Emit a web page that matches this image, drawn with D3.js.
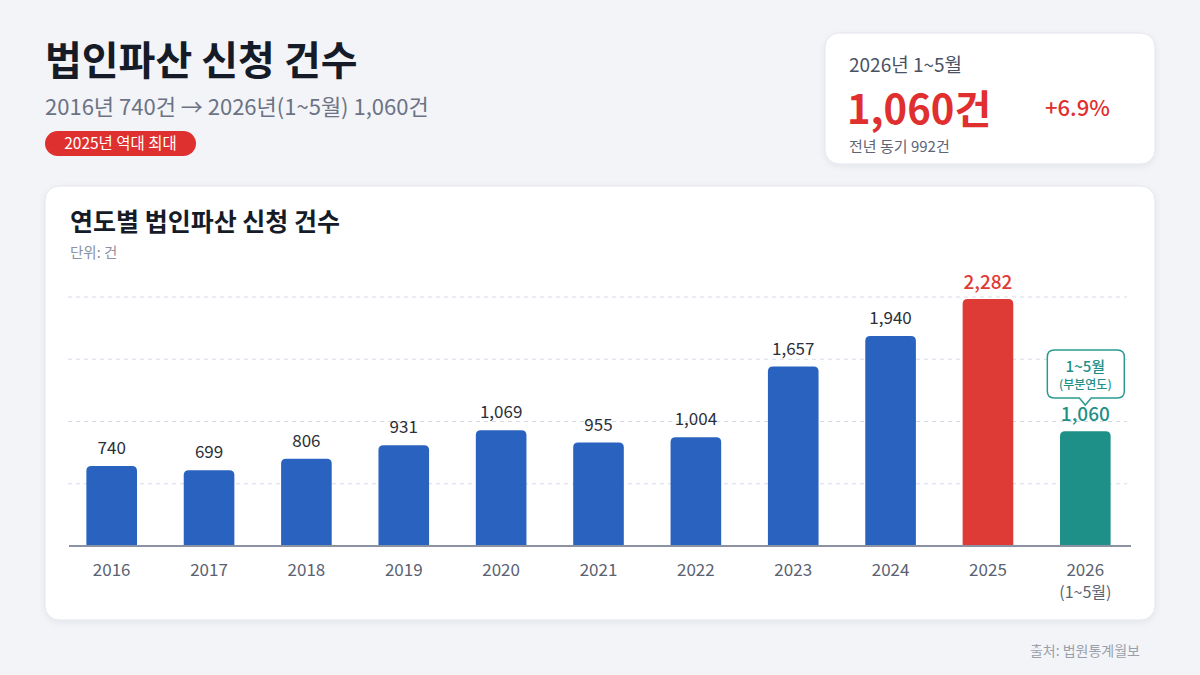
<!DOCTYPE html>
<html><head><meta charset="utf-8">
<script src="https://cdn.jsdelivr.net/npm/d3@7"></script>
<style>
html,body{margin:0;padding:0;background:#f3f4f7;}
svg{display:block;font-family:"Noto Sans CJK KR","Noto Sans",sans-serif;}
</style></head>
<body><svg id="c" width="1200" height="675"></svg>
<script>
const years = ["2016","2017","2018","2019","2020","2021","2022","2023","2024","2025","2026"];
const yearSubLabels = ["","","","","","","","","","","(1~5월)"];
const counts = [740,699,806,931,1069,955,1004,1657,1940,2282,1060];
const gridValues = [575,1150,1725,2300];
const barKinds = ["normal","normal","normal","normal","normal","normal","normal","normal","normal","peak","partial"];

const colors = {normal:"#2a63bf", peak:"#df3b36", partial:"#1f9088"};
const labelColors = {normal:"#2b2f38", peak:"#df3b36", partial:"#1f9088"};

const svg = d3.select("#c");
const defs = svg.append("defs");
const f = defs.append("filter").attr("id","sh").attr("x","-5%").attr("y","-5%").attr("width","110%").attr("height","115%");
f.append("feDropShadow").attr("dx",0).attr("dy",2).attr("stdDeviation",3).attr("flood-color","#1a2340").attr("flood-opacity",0.06);

// Header
svg.append("text").attr("x",45).attr("y",75).attr("font-size",40).attr("font-weight",700).attr("fill","#161b28").text("법인파산 신청 건수");
svg.append("text").attr("x",45).attr("y",115).attr("font-size",22).attr("fill","#6b7385").text("2016년 740건 → 2026년(1~5월) 1,060건");
svg.append("rect").attr("x",45).attr("y",131).attr("width",151).attr("height",25).attr("rx",12.5).attr("fill","#df3030");
svg.append("text").attr("x",120.5).attr("y",149).attr("text-anchor","middle").attr("font-size",15.5).attr("font-weight",400).attr("fill","#fff").text("2025년 역대 최대");

// KPI card
svg.append("rect").attr("x",825).attr("y",33).attr("width",330).attr("height",131).attr("rx",14).attr("fill","#fff").attr("stroke","#e2e5ec").attr("filter","url(#sh)");
svg.append("text").attr("x",849).attr("y",72).attr("font-size",19).attr("fill","#4a5262").text("2026년 1~5월");
svg.append("text").attr("x",847).attr("y",124).attr("font-size",40).attr("font-weight",700).attr("fill","#df2f2f").text("1,060건");
svg.append("text").attr("x",1045).attr("y",116).attr("font-size",22).attr("font-weight",500).attr("fill","#df2f2f").text("+6.9%");
svg.append("text").attr("x",849).attr("y",152).attr("font-size",15).attr("fill","#5d6575").text("전년 동기 992건");

// Chart card
svg.append("rect").attr("x",45).attr("y",186).attr("width",1110).attr("height",434).attr("rx",14).attr("fill","#fff").attr("stroke","#e2e5ec").attr("filter","url(#sh)");
svg.append("text").attr("x",70).attr("y",231).attr("font-size",25).attr("font-weight",700).attr("fill","#161b28").text("연도별 법인파산 신청 건수");
svg.append("text").attr("x",70).attr("y",258).attr("font-size",14.5).attr("fill","#8a91a0").text("단위: 건");

const x = d3.scaleBand().domain(years).range([63,1134]).paddingInner(0.48).paddingOuter(0.24);
const y = d3.scaleLinear().domain([0,2300]).range([546,297]);

// grid
svg.append("g").selectAll("line").data(gridValues).join("line")
  .attr("x1",68).attr("x2",1127).attr("y1",d=>y(d)).attr("y2",d=>y(d))
  .attr("stroke","#d5dbe8").attr("stroke-dasharray","4,4").attr("stroke-width",1);

// bars with rounded top
const r = 5;
function barPath(d,i){
  const x0 = x(years[i]), w = x.bandwidth(), y0 = y(d), y1 = y(0);
  return `M${x0},${y1}V${y0+r}Q${x0},${y0} ${x0+r},${y0}H${x0+w-r}Q${x0+w},${y0} ${x0+w},${y0+r}V${y1}Z`;
}
svg.append("g").selectAll("path").data(counts).join("path")
  .attr("d",barPath).attr("fill",(d,i)=>colors[barKinds[i]]);

// baseline axis
const ax = svg.append("g").attr("transform",`translate(0,${y(0)})`).call(d3.axisBottom(x).tickSize(0).tickFormat(""));
ax.select(".domain").attr("stroke","#8a92a3").attr("stroke-width",2).attr("d","M69,0H1131");

// year labels
svg.append("g").selectAll("text").data(years).join("text")
  .attr("x",d=>x(d)+x.bandwidth()/2).attr("y",576)
  .attr("text-anchor","middle").attr("font-size",17).attr("fill","#5a6272").text(d=>d);
svg.append("g").selectAll("text").data(yearSubLabels).join("text")
  .attr("x",(d,i)=>x(years[i])+x.bandwidth()/2).attr("y",598)
  .attr("text-anchor","middle").attr("font-size",16).attr("fill","#5a6272").text(d=>d);

// value labels
const fmt = d3.format(",");
svg.append("g").selectAll("text").data(counts).join("text")
  .attr("x",(d,i)=>x(years[i])+x.bandwidth()/2)
  .attr("y",(d,i)=>y(d)-(barKinds[i]==="normal"?12:10))
  .attr("text-anchor","middle")
  .attr("font-size",(d,i)=>barKinds[i]==="normal"?17:19)
  .attr("font-weight",(d,i)=>barKinds[i]==="normal"?400:500)
  .attr("fill",(d,i)=>labelColors[barKinds[i]])
  .text(d=>fmt(d));

// callout for partial year
const pi = barKinds.indexOf("partial");
const cx = x(years[pi])+x.bandwidth()/2;
const bx0 = cx-38, bx1 = cx+39, by0 = 350, by1 = 398, rr = 7;
svg.append("path")
  .attr("d",`M${bx0+rr},${by0}H${bx1-rr}Q${bx1},${by0} ${bx1},${by0+rr}V${by1-rr}Q${bx1},${by1} ${bx1-rr},${by1}H${cx+6}L${cx},${by1+7}L${cx-6},${by1}H${bx0+rr}Q${bx0},${by1} ${bx0},${by1-rr}V${by0+rr}Q${bx0},${by0} ${bx0+rr},${by0}Z`)
  .attr("fill","#fff").attr("stroke","#2a9a90").attr("stroke-width",1.5);
svg.append("text").attr("x",cx).attr("y",372).attr("text-anchor","middle").attr("font-size",15).attr("font-weight",500).attr("fill","#1f9088").text("1~5월");
svg.append("text").attr("x",cx).attr("y",389).attr("text-anchor","middle").attr("font-size",12).attr("font-weight",500).attr("fill","#1f9088").text("(부분연도)");

// source
svg.append("text").attr("x",1140).attr("y",656).attr("text-anchor","end").attr("font-size",14).attr("fill","#9aa0ab").text("출처: 법원통계월보");
</script>
</body></html>
